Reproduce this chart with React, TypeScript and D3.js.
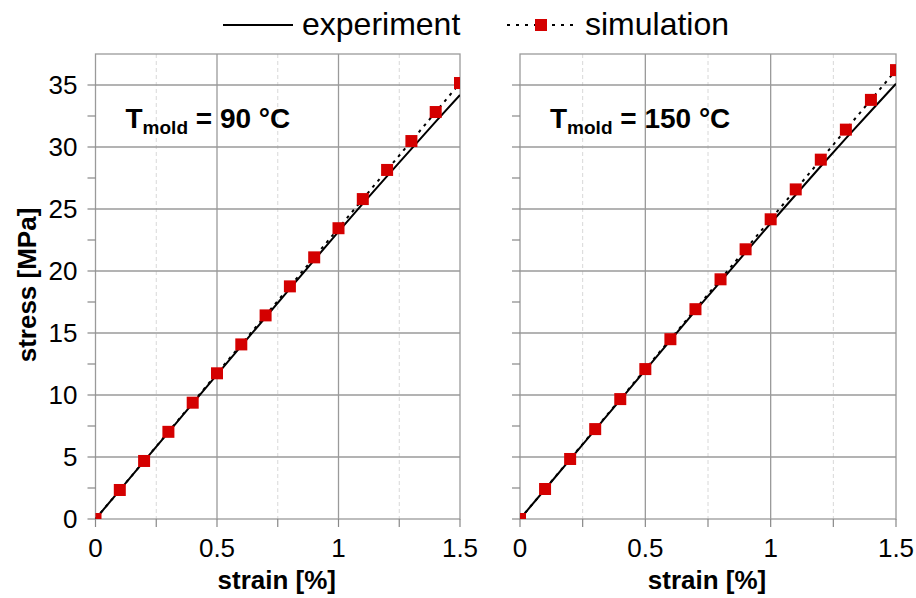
import React from 'react';
import * as d3 from 'd3';

// strain values [%] shared by both panels
const strain = [0, 0.1, 0.2, 0.3, 0.4, 0.5, 0.6, 0.7, 0.8, 0.9, 1.0, 1.1, 1.2, 1.3, 1.4, 1.5];

// T_mold = 90 °C
const exp90 = [0, 2.33, 4.66, 6.99, 9.32, 11.64, 13.96, 16.27, 18.58, 20.88, 23.18, 25.43, 27.65, 29.85, 32.05, 34.2];
const sim90 = [0, 2.34, 4.68, 7.03, 9.38, 11.75, 14.08, 16.42, 18.76, 21.1, 23.45, 25.8, 28.15, 30.48, 32.82, 35.16];

// T_mold = 150 °C
const exp150 = [0, 2.4, 4.8, 7.2, 9.6, 12.0, 14.4, 16.8, 19.15, 21.5, 23.85, 26.15, 28.45, 30.7, 32.9, 35.1];
const sim150 = [0, 2.42, 4.84, 7.25, 9.67, 12.09, 14.5, 16.92, 19.33, 21.75, 24.17, 26.58, 28.98, 31.4, 33.8, 36.2];

const xTicks = [0, 0.5, 1, 1.5];
const xMinor = [0.25, 0.75, 1.25];
const yTicks = [0, 5, 10, 15, 20, 25, 30, 35];
const yMinor = [2.5, 7.5, 12.5, 17.5, 22.5, 27.5, 32.5];

const FONT = "'Liberation Sans', Arial, sans-serif";
const RED = '#d40000';
const top = 54;
const bottom = 519;

type PanelProps = {
  id: string;
  left: number;
  right: number;
  exp: number[];
  sim: number[];
  temp: string;
  showYLabels: boolean;
};

const Panel = ({ id, left, right, exp, sim, temp, showYLabels }: PanelProps) => {
  const x = d3.scaleLinear().domain([0, 1.5]).range([left, right]);
  const y = d3.scaleLinear().domain([0, 37.5]).range([bottom, top]);
  const line = d3
    .line<number>()
    .x((d, i) => x(strain[i]))
    .y((d) => y(d));
  const ms = 12;

  return (
    <g>
      <defs>
        <clipPath id={id}>
          <rect x={left} y={top} width={right - left} height={bottom - top} />
        </clipPath>
      </defs>
      {/* minor vertical grid */}
      {xMinor.map((t) => (
        <line key={'xm' + t} x1={x(t)} x2={x(t)} y1={top} y2={bottom} stroke="#d8d8d8" strokeDasharray="4,3" />
      ))}
      {/* major grid */}
      {xTicks.slice(1, -1).map((t) => (
        <line key={'xg' + t} x1={x(t)} x2={x(t)} y1={top} y2={bottom} stroke="#9a9a9a" strokeWidth={1.3} />
      ))}
      {yTicks.slice(1).map((t) => (
        <line key={'yg' + t} x1={left} x2={right} y1={y(t)} y2={y(t)} stroke="#9a9a9a" strokeWidth={1.3} />
      ))}
      {/* frame */}
      <rect x={left} y={top} width={right - left} height={bottom - top} fill="none" stroke="#9a9a9a" strokeWidth={1.3} />
      {/* ticks */}
      {yTicks.concat(yMinor).map((t) => (
        <line key={'yt' + t} x1={left - 8} x2={left} y1={y(t)} y2={y(t)} stroke="#888" strokeWidth={1.2} />
      ))}
      {xTicks.concat(xMinor).map((t) => (
        <line key={'xt' + t} x1={x(t)} x2={x(t)} y1={bottom} y2={bottom + 8} stroke="#888" strokeWidth={1.2} />
      ))}
      {/* data */}
      <g clipPath={`url(#${id})`}>
        <path d={line(sim) ?? ''} fill="none" stroke="#000" strokeWidth={2} strokeDasharray="3,5" />
        <path d={line(exp) ?? ''} fill="none" stroke="#000" strokeWidth={2} />
        {sim.map((v, i) => (
          <rect key={i} x={x(strain[i]) - ms / 2} y={y(v) - ms / 2} width={ms} height={ms} fill={RED} />
        ))}
      </g>
      {/* tick labels */}
      {showYLabels &&
        yTicks.map((t) => (
          <text key={'yl' + t} x={left - 18} y={y(t) + 9} textAnchor="end" fontSize={26} fontFamily={FONT}>
            {t}
          </text>
        ))}
      {xTicks.map((t) => (
        <text key={'xl' + t} x={x(t)} y={bottom + 38} textAnchor="middle" fontSize={26} fontFamily={FONT}>
          {t}
        </text>
      ))}
      <text x={(left + right) / 2 - 1} y={589} textAnchor="middle" fontSize={26} fontWeight="bold" fontFamily={FONT}>
        strain [%]
      </text>
      <text x={left + 30} y={128} fontSize={28} fontWeight="bold" fontFamily={FONT}>
        T<tspan fontSize={19} dy={6}>mold</tspan>
        <tspan dy={-6}> = {temp} °C</tspan>
      </text>
    </g>
  );
};

const App = () => {
  return (
    <svg width={916} height={598} style={{ position: 'absolute', left: 0, top: 0, background: '#fff' }}>
      <Panel id="c1" left={95.5} right={460} exp={exp90} sim={sim90} temp="90" showYLabels={true} />
      <Panel id="c2" left={520} right={896} exp={exp150} sim={sim150} temp="150" showYLabels={false} />
      <text
        transform="translate(36,285) rotate(-90)"
        textAnchor="middle"
        fontSize={26}
        fontWeight="bold"
        fontFamily={FONT}
      >
        stress [MPa]
      </text>
      {/* legend */}
      <line x1={223} x2={293} y1={25} y2={25} stroke="#000" strokeWidth={2} />
      <text x={302} y={35} fontSize={32} fontFamily={FONT}>experiment</text>
      <line x1={507} x2={573} y1={25} y2={25} stroke="#000" strokeWidth={2} strokeDasharray="3,6" />
      <rect x={535} y={19} width={12} height={12} fill={RED} />
      <text x={585} y={35} fontSize={32} fontFamily={FONT}>simulation</text>
    </svg>
  );
};

export default App;
